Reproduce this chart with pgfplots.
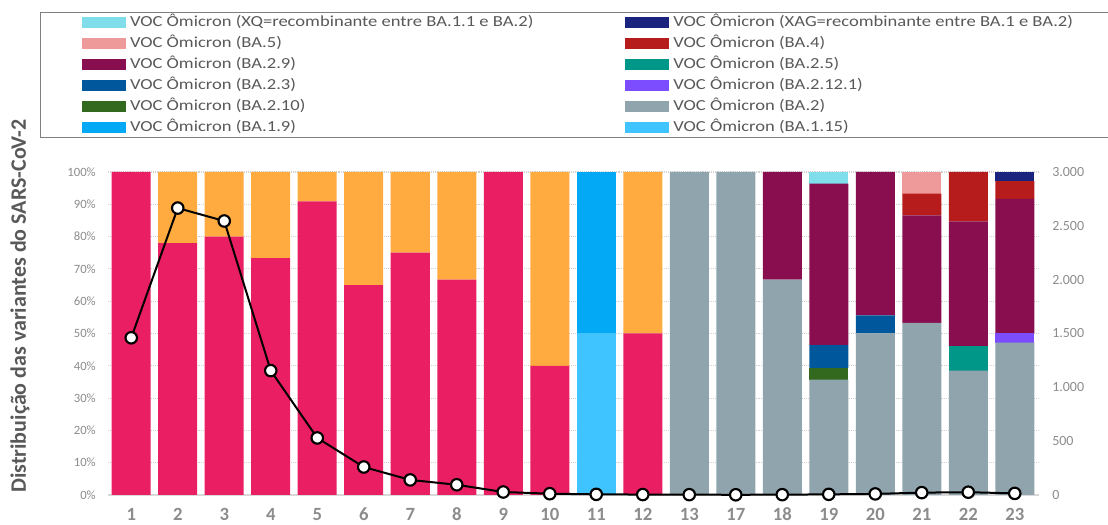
\documentclass[border=0pt]{standalone}
\usepackage{pgfplots}
\pgfplotsset{compat=1.18}
\usepackage{pgfplotstable}
\usepackage{fontspec}
\setmainfont{Carlito}
\newfontfamily\legendfont[FakeStretch=1.21]{Carlito}
\definecolor{cPink}{HTML}{E91E63}
\definecolor{cOrange}{HTML}{FFAB40}
\definecolor{cBAxv}{HTML}{40C4FF}
\definecolor{cBAix}{HTML}{03A9F4}
\definecolor{cBAii}{HTML}{90A4AE}
\definecolor{cBAiix}{HTML}{33691E}
\definecolor{cBAiixii}{HTML}{7C4DFF}
\definecolor{cBAiiiii}{HTML}{01579B}
\definecolor{cBAiiv}{HTML}{009688}
\definecolor{cBAiiix}{HTML}{880E4F}
\definecolor{cBAiv}{HTML}{B71C1C}
\definecolor{cBAv}{HTML}{EF9A9A}
\definecolor{cXAG}{HTML}{1A237E}
\definecolor{cXQ}{HTML}{80DEEA}
\definecolor{txtgray}{HTML}{595959}
\definecolor{tickgray}{HTML}{8C8C8C}
\pgfplotstableread{
x pink orange bxv bix bii biix biixii biiiii biiv biiix biv bv xag xq
0 100 0 0 0 0 0 0 0 0 0 0 0 0 0
1 78 22 0 0 0 0 0 0 0 0 0 0 0 0
2 80 20 0 0 0 0 0 0 0 0 0 0 0 0
3 73.3 26.7 0 0 0 0 0 0 0 0 0 0 0 0
4 90.9 9.1 0 0 0 0 0 0 0 0 0 0 0 0
5 65 35 0 0 0 0 0 0 0 0 0 0 0 0
6 75 25 0 0 0 0 0 0 0 0 0 0 0 0
7 66.7 33.3 0 0 0 0 0 0 0 0 0 0 0 0
8 100 0 0 0 0 0 0 0 0 0 0 0 0 0
9 40 60 0 0 0 0 0 0 0 0 0 0 0 0
10 0 0 50 50 0 0 0 0 0 0 0 0 0 0
11 50 50 0 0 0 0 0 0 0 0 0 0 0 0
12 0 0 0 0 100 0 0 0 0 0 0 0 0 0
13 0 0 0 0 100 0 0 0 0 0 0 0 0 0
14 0 0 0 0 66.7 0 0 0 0 33.3 0 0 0 0
15 0 0 0 0 35.7 3.6 0 7.1 0 50 0 0 0 3.6
16 0 0 0 0 50 0 0 5.6 0 44.4 0 0 0 0
17 0 0 0 0 53.3 0 0 0 0 33.3 6.7 6.7 0 0
18 0 0 0 0 38.5 0 0 0 7.7 38.5 15.3 0 0 0
19 0 0 0 0 47.2 0 2.8 0 0 41.7 5.5 0 2.8 0
}\bars
\pgfplotstableread{
x n
0 1460
1 2665
2 2545
3 1155
4 530
5 260
6 140
7 95
8 28
9 12
10 6
11 4
12 3
13 2
14 3
15 6
16 10
17 22
18 26
19 15
}\linedata
\begin{document}
\begin{tikzpicture}
\path[use as bounding box] (0,0) rectangle (831pt,393.75pt);
\begin{axis}[
  at={(81pt,22.5pt)}, anchor=south west,
  scale only axis, width=697.5pt, height=242.25pt,
  ybar stacked, bar width=29.25pt,
  xmin=-0.5, xmax=19.5, ymin=0, ymax=100,
  xtick={0,...,19},
  xticklabels={1,2,3,4,5,6,7,8,9,10,11,12,13,17,18,19,20,21,22,23},
  ytick={0,10,...,100},
  yticklabel={\pgfmathprintnumber{\tick}\%},
  /pgf/number format/assume math mode=true,
  ymajorgrids, grid style={densely dotted, gray!35, line width=0.8pt},
  axis x line*=bottom, axis y line*=left,
  y axis line style={draw=none},
  x axis line style={draw=gray!30, line width=1.5pt},
  major tick length=0pt,
  xticklabel style={font=\bfseries\fontsize{14}{14}\selectfont, text=tickgray, anchor=base, yshift=-19.5pt},
  yticklabel style={font=\fontsize{9.5}{10}\selectfont, text=tickgray, inner xsep=0pt, xshift=-9pt},
  clip=false,
]
\addplot[fill=cPink, draw=none] table[x=x,y=pink]{\bars};
\addplot[fill=cOrange, draw=none] table[x=x,y=orange]{\bars};
\addplot[fill=cBAxv, draw=none] table[x=x,y=bxv]{\bars};
\addplot[fill=cBAix, draw=none] table[x=x,y=bix]{\bars};
\addplot[fill=cBAii, draw=none] table[x=x,y=bii]{\bars};
\addplot[fill=cBAiix, draw=none] table[x=x,y=biix]{\bars};
\addplot[fill=cBAiixii, draw=none] table[x=x,y=biixii]{\bars};
\addplot[fill=cBAiiiii, draw=none] table[x=x,y=biiiii]{\bars};
\addplot[fill=cBAiiv, draw=none] table[x=x,y=biiv]{\bars};
\addplot[fill=cBAiiix, draw=none] table[x=x,y=biiix]{\bars};
\addplot[fill=cBAiv, draw=none] table[x=x,y=biv]{\bars};
\addplot[fill=cBAv, draw=none] table[x=x,y=bv]{\bars};
\addplot[fill=cXAG, draw=none] table[x=x,y=xag]{\bars};
\addplot[fill=cXQ, draw=none] table[x=x,y=xq]{\bars};
\node[rotate=90, font=\bfseries\fontsize{16.5}{16.5}\selectfont, text=txtgray] at (axis description cs:-0.0946,0.585) {Distribuição das variantes do SARS-CoV-2};
\end{axis}
\begin{axis}[
  at={(81pt,22.5pt)}, anchor=south west,
  scale only axis, width=697.5pt, height=242.25pt,
  xmin=-0.5, xmax=19.5, ymin=0, ymax=3000,
  axis x line=none, axis y line*=right,
  y axis line style={draw=none},
  major tick length=0pt,
  ytick={0,500,...,3000},
  scaled y ticks=false,
  /pgf/number format/1000 sep={.},
  /pgf/number format/assume math mode=true,
  yticklabel style={font=\fontsize{10.5}{11}\selectfont, text=tickgray, inner xsep=0pt, xshift=10.5pt},
  clip=false,
  legend columns=2,
  legend cell align=left,
  legend image code/.code={\fill[#1, draw=none] (0pt,-4.1pt) rectangle (33pt,4.1pt);},
  legend style={at={(-0.0731,1.4954)}, anchor=north west,
    draw=gray, line width=1.1pt, text=txtgray,
    font=\legendfont\fontsize{11.5}{13}\selectfont,
    inner xsep=31pt, inner ysep=1.2pt, row sep=3.25pt,
    nodes={inner xsep=3pt, inner ysep=0pt, text height=9pt, text depth=3.5pt}},
]
\addplot[forget plot, black, line width=1.5pt, mark=*, mark size=4.3pt,
  mark options={fill=white, draw=black, line width=1.6pt}] table[x=x,y=n]{\linedata};
\addlegendimage{fill=cXQ}
\addlegendentry{\makebox[368.5pt][l]{VOC Ômicron (XQ=recombinante entre BA.1.1 e BA.2)}}
\addlegendimage{fill=cXAG}
\addlegendentry{\makebox[368.5pt][l]{VOC Ômicron (XAG=recombinante entre BA.1 e BA.2)}}
\addlegendimage{fill=cBAv}
\addlegendentry{\makebox[368.5pt][l]{VOC Ômicron (BA.5)}}
\addlegendimage{fill=cBAiv}
\addlegendentry{\makebox[368.5pt][l]{VOC Ômicron (BA.4)}}
\addlegendimage{fill=cBAiiix}
\addlegendentry{\makebox[368.5pt][l]{VOC Ômicron (BA.2.9)}}
\addlegendimage{fill=cBAiiv}
\addlegendentry{\makebox[368.5pt][l]{VOC Ômicron (BA.2.5)}}
\addlegendimage{fill=cBAiiiii}
\addlegendentry{\makebox[368.5pt][l]{VOC Ômicron (BA.2.3)}}
\addlegendimage{fill=cBAiixii}
\addlegendentry{\makebox[368.5pt][l]{VOC Ômicron (BA.2.12.1)}}
\addlegendimage{fill=cBAiix}
\addlegendentry{\makebox[368.5pt][l]{VOC Ômicron (BA.2.10)}}
\addlegendimage{fill=cBAii}
\addlegendentry{\makebox[368.5pt][l]{VOC Ômicron (BA.2)}}
\addlegendimage{fill=cBAix}
\addlegendentry{\makebox[368.5pt][l]{VOC Ômicron (BA.1.9)}}
\addlegendimage{fill=cBAxv}
\addlegendentry{\makebox[368.5pt][l]{VOC Ômicron (BA.1.15)}}
\end{axis}
\end{tikzpicture}
\end{document}
